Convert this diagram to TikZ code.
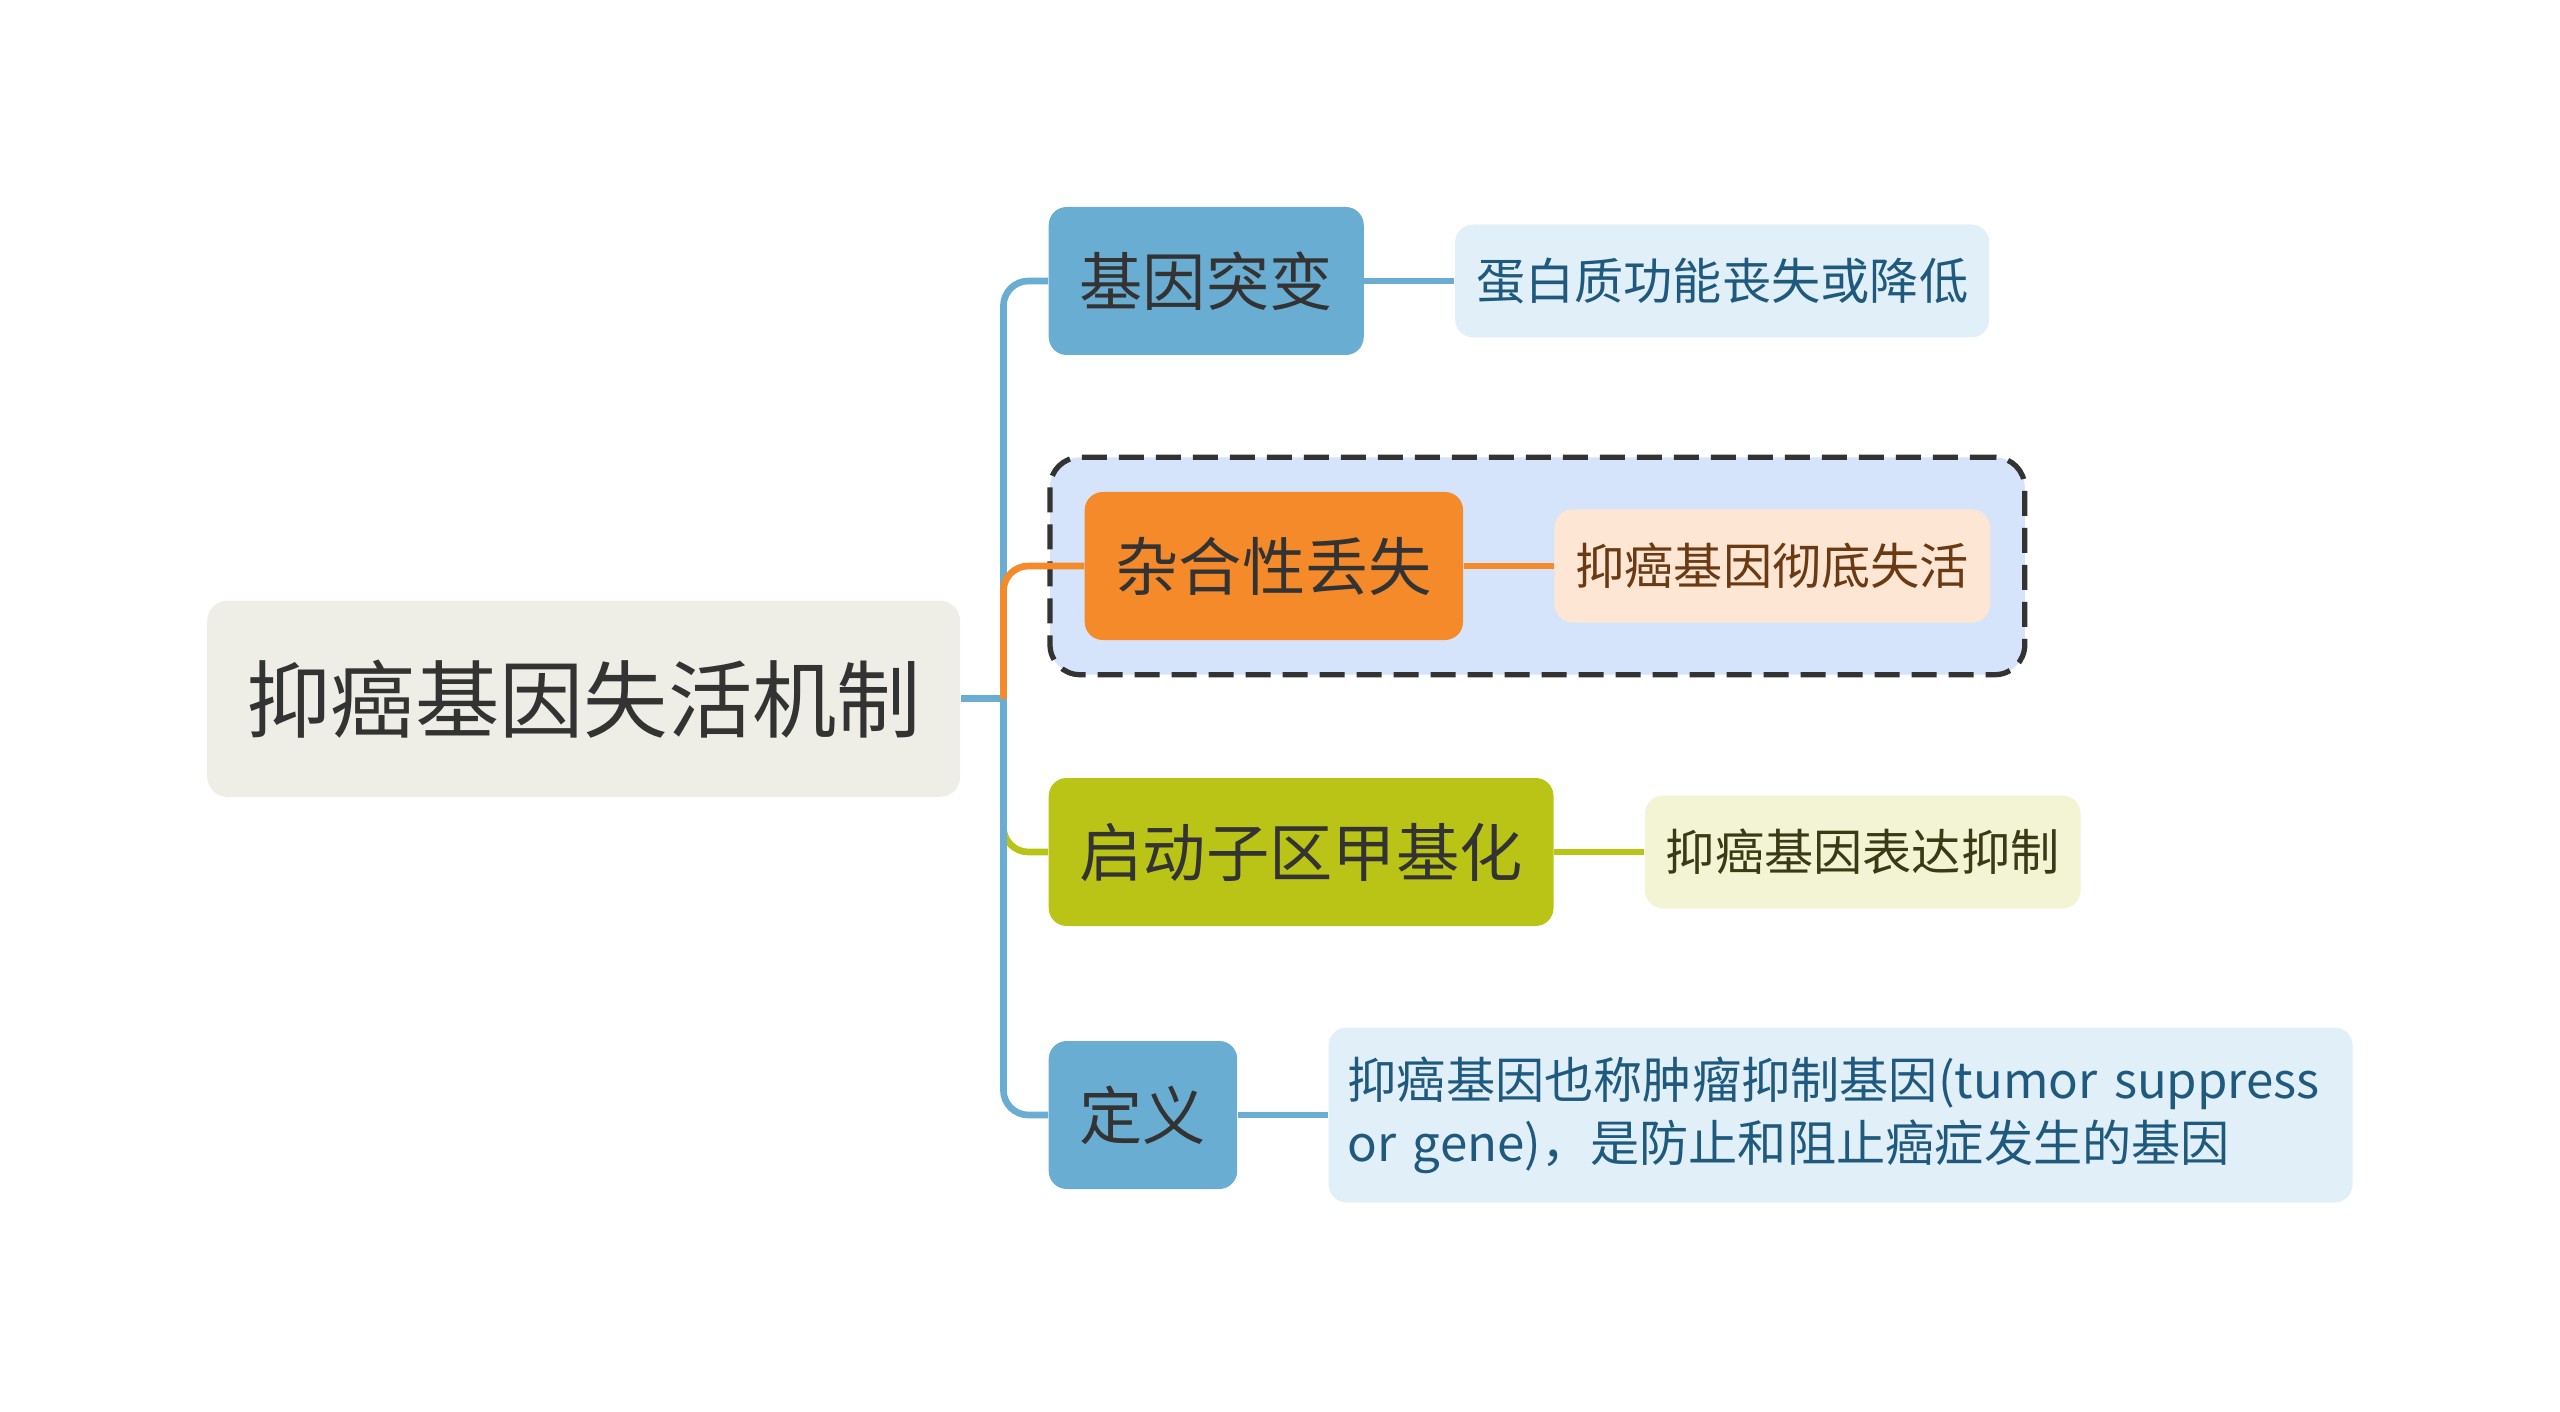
\documentclass[tikz,border=0pt]{standalone}
\usepackage{fontspec}
\setmainfont{Noto Sans CJK SC}
\usepackage{xcolor}
\usepackage{tikz}
\usetikzlibrary{positioning,fit,backgrounds}

\definecolor{ink}{HTML}{333333}
\definecolor{topicfill}{HTML}{EEEEE6}
\definecolor{bluecol}{HTML}{69AED2}
\definecolor{orangecol}{HTML}{F58A2B}
\definecolor{olivecol}{HTML}{BAC417}
\definecolor{leafblue}{HTML}{E1F0F8}
\definecolor{leaforange}{HTML}{FDE6D3}
\definecolor{leafolive}{HTML}{F2F4D4}
\definecolor{inkblue}{HTML}{1F5A7E}
\definecolor{inkbrown}{HTML}{6B3A12}
\definecolor{inkolive}{HTML}{3A3A14}
\definecolor{groupfill}{HTML}{D5E4FA}
\definecolor{dashink}{HTML}{333333}

\begin{document}
\begin{tikzpicture}[
  node distance=9mm,
  topic/.style={rounded corners=2mm,fill=topicfill,text=ink,minimum width=75.3mm,minimum height=19.6mm,font=\fontsize{24}{28}\selectfont},
  branchbox/.style={rounded corners=1.8mm,text=ink,inner xsep=3.1mm,minimum height=14.8mm,font=\fontsize{18}{22}\selectfont},
  leafbox/.style={rounded corners=1.8mm,inner xsep=2.1mm,minimum height=11.3mm,font=\fontsize{14}{18}\selectfont},
  conn/.style={line width=1.9pt},
  trunk/.style={conn,rounded corners=2.5mm},
  groupbox/.style={draw=dashink,line width=1.5pt,dash pattern=on 2.5mm off 1.2mm,rounded corners=3mm,fill=groupfill,inner sep=3.4mm}
]
\useasboundingbox (0,0) rectangle (25.6,-14.12);
\node[topic] (topic) at (5.837,-6.988) {抑癌基因失活机制};
\node[branchbox,fill=bluecol,anchor=west] (mut) at (10.48,-2.81) {基因突变};
\node[branchbox,fill=orangecol,anchor=west] (loh) at (10.84,-5.66) {杂合性丢失};
\node[branchbox,fill=olivecol,anchor=west] (meth) at (10.48,-8.52) {启动子区甲基化};
\node[branchbox,fill=bluecol,anchor=west] (defn) at (10.48,-11.15) {定义};
\node[leafbox,fill=leafblue,text=inkblue,right=of mut] (prot) {蛋白质功能丧失或降低};
\node[leafbox,fill=leaforange,text=inkbrown,right=of loh] (inact) {抑癌基因彻底失活};
\node[leafbox,fill=leafolive,text=inkolive,right=of meth] (expr) {抑癌基因表达抑制};
\node[leafbox,fill=leafblue,text=inkblue,right=of defn,align=left,text width=98.6mm,inner xsep=1.9mm,minimum height=17.5mm] (note) {\mbox{抑癌基因也称肿瘤抑制基因(tumor suppress}\\or gene)，是防止和阻止癌症发生的基因};
\begin{scope}[on background layer]
\node[groupbox,fit=(loh)(inact)] (grp) {};
\end{scope}
% connectors
\coordinate[right=4.25mm of topic.east] (hub);
\draw[trunk,draw=olivecol] (hub) |- (meth.west);
\draw[conn,draw=bluecol] (topic) -- (hub);
\foreach \b in {mut,defn} \draw[trunk,draw=bluecol] (hub) |- (\b.west);
\draw[trunk,draw=orangecol] (hub) |- (loh.west);
\draw[conn,draw=bluecol] (mut) -- (prot);
\draw[conn,draw=orangecol] (loh) -- (inact);
\draw[conn,draw=olivecol] (meth) -- (expr);
\draw[conn,draw=bluecol] (defn) -- (note);
\end{tikzpicture}
\end{document}
